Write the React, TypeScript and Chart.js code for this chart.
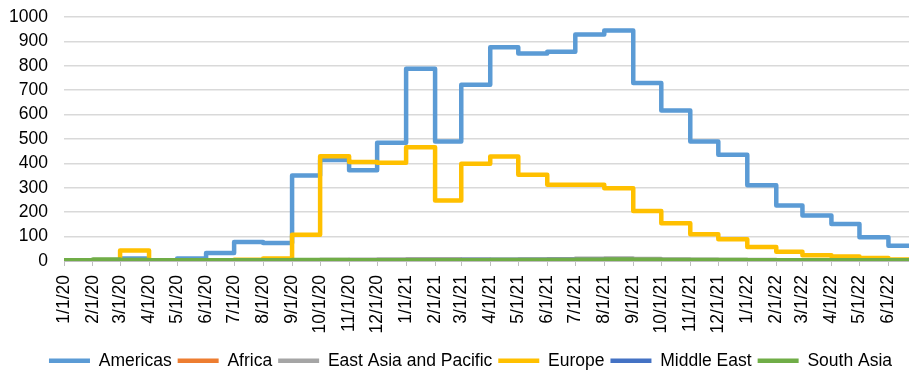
import React, { useEffect, useRef } from "react";
import { Chart, registerables } from "chart.js";

Chart.register(...registerables);

const MONTHS = [
  "1/1/20", "2/1/20", "3/1/20", "4/1/20", "5/1/20", "6/1/20", "7/1/20", "8/1/20", "9/1/20", "10/1/20", "11/1/20", "12/1/20",
  "1/1/21", "2/1/21", "3/1/21", "4/1/21", "5/1/21", "6/1/21", "7/1/21", "8/1/21", "9/1/21", "10/1/21", "11/1/21", "12/1/21",
  "1/1/22", "2/1/22", "3/1/22", "4/1/22", "5/1/22", "6/1/22",
];
const END_DATE = "6/23/22";

const AMERICAS = [0, 0, 10, 3, 10, 33, 78, 74, 350, 414, 372, 485, 788, 490, 722, 876, 850, 858, 928, 945, 730, 617, 490, 435, 310, 227, 186, 152, 97, 63];
const AFRICA = [0, 0, 0, 0, 0, 0, 0, 1, 1, 1, 1, 1, 1, 1, 1, 1, 1, 1, 2, 2, 1, 1, 1, 1, 1, 1, 1, 1, 1, 1];
const EAST_ASIA = [2, 3, 3, 2, 2, 2, 2, 2, 3, 4, 5, 6, 7, 7, 6, 5, 6, 7, 9, 10, 8, 6, 5, 4, 4, 3, 3, 3, 2, 2];
const EUROPE = [0, 2, 43, 3, 3, 2, 5, 10, 108, 429, 406, 403, 466, 248, 399, 428, 353, 312, 312, 298, 205, 155, 110, 89, 57, 38, 24, 18, 12, 6];
const MIDDLE_EAST = [1, 1, 1, 1, 1, 1, 1, 1, 1, 1, 1, 2, 3, 3, 4, 4, 4, 4, 4, 4, 3, 3, 3, 2, 2, 2, 2, 2, 2, 2];
const SOUTH_ASIA = [3, 6, 4, 3, 3, 3, 3, 3, 4, 4, 3, 3, 3, 3, 3, 4, 4, 4, 5, 6, 5, 4, 4, 4, 3, 3, 3, 3, 3, 3];

const SERIES = [
  { label: "Americas", values: AMERICAS, color: "#5B9BD5", order: 5 },
  { label: "Africa", values: AFRICA, color: "#ED7D31", order: 4 },
  { label: "East Asia and Pacific", values: EAST_ASIA, color: "#A5A5A5", order: 3 },
  { label: "Europe", values: EUROPE, color: "#FFC000", order: 2 },
  { label: "Middle East", values: MIDDLE_EAST, color: "#4472C4", order: 1 },
  { label: "South Asia", values: SOUTH_ASIA, color: "#70AD47", order: 0 },
];

function dayOffset(label: string): number {
  const [m, d, y] = label.split("/").map(Number);
  return (Date.UTC(2000 + y, m - 1, d) - Date.UTC(2020, 0, 1)) / 86400000;
}

const TICK_DAYS = MONTHS.map(dayOffset);
const END_DAY = dayOffset(END_DATE);

function points(values: number[]) {
  const pts = MONTHS.map((m, i) => ({ x: dayOffset(m), y: values[i] }));
  pts.push({ x: END_DAY, y: values[values.length - 1] });
  return pts;
}

const legendShift = {
  id: "legendShift",
  afterLayout(chart: any) {
    const lg = chart.legend;
    if (lg) {
      lg.left += 16;
      lg.right += 16;
    }
  },
};

export default function App() {
  const ref = useRef<HTMLCanvasElement>(null);
  useEffect(() => {
    if (!ref.current) return;
    const font = { family: "'Liberation Sans', Arial, sans-serif", size: 17.5 };
    const chart = new Chart(ref.current, {
      type: "line",
      data: {
        datasets: SERIES.map((s) => ({
          label: s.label,
          data: points(s.values),
          borderColor: s.color,
          backgroundColor: s.color,
          borderWidth: 4.5,
          stepped: "before" as const,
          pointRadius: 0,
          fill: false,
          order: s.order,
          borderCapStyle: "round" as const,
          borderJoinStyle: "round" as const,
          pointStyle: "line" as const,
        })),
      },
      plugins: [legendShift],
      options: {
        responsive: false,
        animation: false,
        layout: { padding: { top: 17, left: 0, right: 0, bottom: 0 } },
        plugins: {
          tooltip: { enabled: false },
          legend: {
            position: "bottom",
            maxHeight: 27,
            labels: {
              font,
              color: "#000",
              usePointStyle: true,
              pointStyleWidth: 41,
              padding: 6,
              sort: (a: any, b: any) => a.datasetIndex - b.datasetIndex,
            },
          },
        },
        scales: {
          x: {
            type: "linear",
            min: 0,
            max: END_DAY,
            afterBuildTicks: (scale: any) => {
              scale.ticks = TICK_DAYS.map((v) => ({ value: v }));
            },
            afterFit: (scale: any) => {
              scale.height = 85;
              scale.paddingRight = 0;
            },
            ticks: {
              font,
              color: "#000",
              autoSkip: false,
              minRotation: 90,
              maxRotation: 90,
              padding: 9,
              callback: (value: any) => {
                const i = TICK_DAYS.indexOf(Number(value));
                return i >= 0 ? MONTHS[i] : "";
              },
            },
            grid: {
              drawOnChartArea: false,
              drawTicks: true,
              tickLength: 5,
              color: "#BFBFBF",
            },
            border: { display: true, color: "#BFBFBF" },
          },
          y: {
            min: 0,
            max: 1000,
            afterFit: (scale: any) => {
              scale.width = 64;
              scale.paddingTop = 0;
              scale.paddingBottom = 0;
            },
            ticks: {
              font,
              color: "#000",
              stepSize: 100,
              autoSkip: false,
              padding: 16,
              callback: (value: any) => String(value),
            },
            grid: { color: "#D9D9D9", lineWidth: 1.5, drawTicks: false },
            border: { display: false },
          },
        },
      },
    });
    return () => chart.destroy();
  }, []);
  return (
    <div style={{ position: "fixed", left: 0, top: 0, width: 909, height: 373, background: "#fff" }}>
      <canvas ref={ref} width={909} height={373} />
    </div>
  );
}
